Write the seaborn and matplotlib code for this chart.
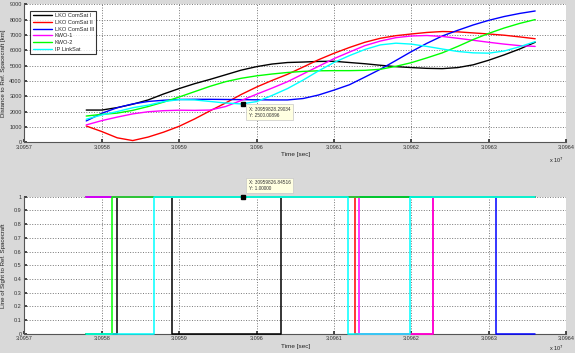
import matplotlib
matplotlib.use("Agg")
import matplotlib.pyplot as plt
import matplotlib.ticker as mticker
import pandas as pd
import seaborn as sns

# time samples [s] for the distance curves
time = [30957800, 30958000, 30958200, 30958400, 30958600, 30958800, 30959000,
        30959200, 30959400, 30959600, 30959800, 30960000, 30960200, 30960400,
        30960600, 30960800, 30961000, 30961200, 30961400, 30961600, 30961800,
        30962000, 30962200, 30962400, 30962600, 30962800, 30963000, 30963200,
        30963400, 30963600]

# distance to reference spacecraft [km]
dist_comsat1 = [2100, 2100, 2260, 2480, 2760, 3150, 3500, 3820, 4100, 4400,
                4700, 4930, 5100, 5200, 5230, 5270, 5280, 5200, 5120, 5020,
                4930, 4870, 4820, 4800, 4870, 5050, 5350, 5700, 6080, 6520]
dist_comsat2 = [1060, 700, 290, 110, 340, 660, 1040, 1520, 2050, 2560,
                3110, 3600, 4030, 4430, 4900, 5380, 5800, 6180, 6520, 6780,
                6950, 7060, 7160, 7220, 7200, 7130, 7060, 6980, 6870, 6750]
dist_comsat3 = [1390, 1890, 2250, 2500, 2660, 2740, 2790, 2800, 2800, 2790,
                2780, 2770, 2760, 2760, 2850, 3080, 3400, 3750, 4250, 4760,
                5330, 5910, 6450, 6930, 7300, 7650, 7950, 8200, 8400, 8560]
dist_kwo1 = [1130, 1410, 1640, 1850, 1990, 2060, 2090, 2080, 2100, 2330,
             2720, 3130, 3530, 3950, 4450, 4950, 5450, 5880, 6300, 6600,
             6820, 6930, 6960, 6900, 6780, 6650, 6520, 6400, 6300, 6250]
dist_kwo2 = [1710, 1820, 1900, 2080, 2330, 2620, 2950, 3300, 3650, 3950,
             4170, 4330, 4450, 4550, 4620, 4660, 4670, 4670, 4690, 4760,
             4950, 5190, 5500, 5830, 6250, 6700, 7100, 7450, 7750, 8000]
dist_linksat = [1500, 1780, 2000, 2250, 2420, 2650, 2780, 2760, 2660, 2560,
                2500, 2650, 3050, 3500, 4050, 4650, 5200, 5650, 6050, 6350,
                6460, 6400, 6250, 6080, 5920, 5830, 5810, 5950, 6230, 6560]

# line of sight switching times and states (0/1)
los_t_comsat1 = [30957800, 30958194, 30958912, 30960313, 30963600]
los_comsat1 = [0, 1, 0, 1, 1]
los_t_comsat2 = [30957800, 30961273, 30962277, 30963600]
los_comsat2 = [1, 0, 1, 1]
los_t_comsat3 = [30957800, 30963090, 30963600]
los_comsat3 = [1, 0, 0]
los_t_kwo1 = [30957800, 30961324, 30962277, 30963600]
los_kwo1 = [1, 0, 1, 1]
los_t_kwo2 = [30957800, 30958129, 30963600]
los_kwo2 = [0, 1, 1]
los_t_linksat = [30957800, 30958680, 30961178, 30961983, 30963600]
los_linksat = [0, 1, 0, 1, 1]

names = ["LKO ComSat I", "LKO ComSat II", "LKO ComSat III", "KWO-1", "KWO-2", "IP LinkSat"]
colors = ["#000000", "#ff0000", "#0000ff", "#ff00ff", "#00ff00", "#00ffff"]
dists = [dist_comsat1, dist_comsat2, dist_comsat3, dist_kwo1, dist_kwo2, dist_linksat]
los_ts = [los_t_comsat1, los_t_comsat2, los_t_comsat3, los_t_kwo1, los_t_kwo2, los_t_linksat]
los_vals = [los_comsat1, los_comsat2, los_comsat3, los_kwo1, los_kwo2, los_linksat]

tip1_x, tip1_y = 30959828.29034, 2500.00896
tip2_x, tip2_y = 30959826.84516, 1.00000

sns.set_theme(style="ticks")
plt.rcParams["font.family"] = ["Liberation Sans", "DejaVu Sans"]
bg = "#d9d9d9"

fig = plt.figure(figsize=(5.75, 3.53), dpi=100, facecolor=bg)
ax1 = fig.add_axes([0.0423, 0.597, 0.9423, 0.391])
ax2 = fig.add_axes([0.0423, 0.054, 0.9423, 0.389])

dist_df = pd.DataFrame({"time": time})
for name, d in zip(names, dists):
    dist_df[name] = d
for name, c in zip(names, colors):
    sns.lineplot(data=dist_df, x="time", y=name, color=c, lw=1.0, label=name, ax=ax1)

for name, c, t, v in zip(names, colors, los_ts, los_vals):
    sns.lineplot(x=t, y=v, color=c, lw=1.1, drawstyle="steps-post", ax=ax2,
                 clip_on=False, zorder=3)


def style_axes(ax):
    ax.set_facecolor("white")
    ax.set_xlim(30957000, 30964000)
    ax.xaxis.set_major_locator(mticker.MultipleLocator(1000))
    ax.xaxis.set_major_formatter(mticker.FuncFormatter(lambda v, _: f"{v / 1e7:.5g}"))
    ax.grid(True, color="#777777", linestyle=":", linewidth=0.7)
    for s in ["top", "right"]:
        ax.spines[s].set_visible(False)
    for s in ["left", "bottom"]:
        ax.spines[s].set_color("#555555")
        ax.spines[s].set_linewidth(0.8)
    ax.tick_params(direction="in", length=2, labelsize=4.0, pad=1.8, colors="#333333")
    ax.set_xlabel("Time [sec]", fontsize=4.6, labelpad=1.5, color="#222222")
    ax.yaxis.set_label_coords(-0.033, 0.5)


style_axes(ax1)
ax1.set_ylim(0, 9000)
ax1.yaxis.set_major_locator(mticker.MultipleLocator(1000))
ax1.set_ylabel("Distance to Ref. Spacecraft [km]", fontsize=4.4, color="#222222")
leg = ax1.legend(loc="upper left", fontsize=4.1, frameon=True, fancybox=False,
                 edgecolor="black", handlelength=3.4, handletextpad=0.4,
                 borderpad=0.45, labelspacing=0.3, bbox_to_anchor=(0.006, 0.975))
leg.get_frame().set_linewidth(0.8)

style_axes(ax2)
ax2.set_ylim(0, 1)
ax2.yaxis.set_major_locator(mticker.MultipleLocator(0.1))
ax2.yaxis.set_major_formatter(mticker.FuncFormatter(lambda v, _: f"{v:g}"))
ax2.set_ylabel("Line of Sight to Ref. Spacecraft", fontsize=4.4, color="#222222")

ax1.text(0.995, -0.095, r"x 10$^7$", transform=ax1.transAxes, ha="right", va="top",
         fontsize=4.0, color="#222222")
ax2.text(0.995, -0.07, r"x 10$^7$", transform=ax2.transAxes, ha="right", va="top",
         fontsize=4.0, color="#222222")

# data tips
ax1.plot(tip1_x, tip1_y, marker="s", color="black", ms=3, zorder=5)
ax1.annotate(f"X: {tip1_x:.5f}\nY: {tip1_y:.5f}", (tip1_x, tip1_y), xytext=(4, -2),
             textcoords="offset points", ha="left", va="top", fontsize=3.4,
             color="#333333", zorder=6, linespacing=1.3,
             bbox=dict(boxstyle="square,pad=0.5", fc="#ffffe1", ec="#c8c8c8", lw=0.5))
ax2.plot(tip2_x, tip2_y, marker="s", color="black", ms=3, zorder=5, clip_on=False)
ax2.annotate(f"X: {tip2_x:.5f}\nY: {tip2_y:.5f}", (tip2_x, tip2_y), xytext=(4, 4),
             textcoords="offset points", ha="left", va="bottom", fontsize=3.4,
             color="#333333", zorder=6, linespacing=1.3, annotation_clip=False,
             bbox=dict(boxstyle="square,pad=0.5", fc="#ffffe1", ec="#c8c8c8", lw=0.5))

fig.savefig("out.png", dpi=100, facecolor=bg)
